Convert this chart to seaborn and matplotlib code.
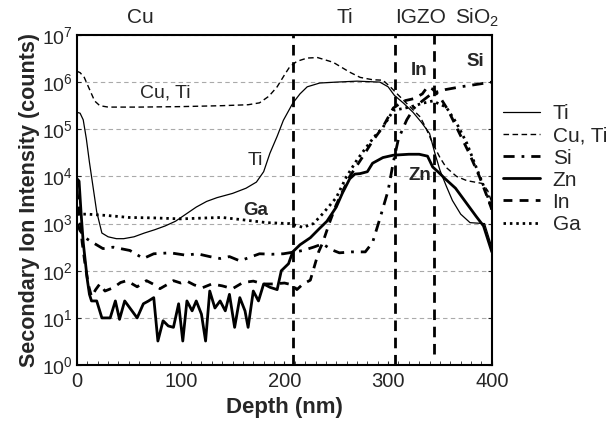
import numpy as np
import pandas as pd
import matplotlib
matplotlib.use("Agg")
import matplotlib.pyplot as plt
import seaborn as sns

# depth profile values (exponents of 10)
ti_depth = [0, 3, 6, 9, 12, 17, 19, 24, 30, 38, 45, 55, 65, 75, 85, 95, 105, 115, 125, 135,
            150, 163, 173, 180, 186, 193, 199, 208, 215, 222, 234, 250, 270, 292, 300, 306,
            315, 324, 332, 340, 345, 350, 356, 362, 370, 379, 393, 400]
ti_exp = [5.36, 5.34, 5.2, 4.8, 4.3, 3.55, 3.25, 2.8, 2.72, 2.68, 2.68, 2.72, 2.8, 2.87, 2.95,
          3.05, 3.2, 3.35, 3.47, 3.55, 3.64, 3.75, 3.88, 4.1, 4.49, 4.85, 5.19, 5.55, 5.75, 5.9,
          5.98, 6.0, 6.02, 6.0, 5.9, 5.72, 5.55, 5.36, 5.15, 4.91, 4.5, 4.13, 3.8, 3.49, 3.2,
          3.02, 3.0, 2.5]

cuti_depth = [0, 3, 7, 12, 17, 22, 30, 60, 100, 140, 165, 176, 185, 193, 200, 205, 212, 222,
              232, 247, 263, 273, 285, 295, 303, 311, 321, 331, 337, 343, 350, 356, 366, 376,
              391, 396, 400]
cuti_exp = [6.23, 6.2, 6.1, 5.85, 5.6, 5.5, 5.47, 5.47, 5.48, 5.5, 5.52, 5.56, 5.7, 5.9, 6.15,
            6.32, 6.44, 6.51, 6.52, 6.42, 6.21, 6.1, 6.05, 6.04, 5.88, 5.7, 5.48, 5.26, 5.0,
            4.7, 4.4, 4.19, 4.0, 3.91, 3.85, 3.7, 3.45]

si_depth = [0, 3, 8, 12, 25, 35, 51, 64, 74, 90, 105, 116, 128, 138, 147, 157, 166, 176, 188,
            199, 210, 218, 228, 237, 245, 253, 265, 278, 285, 292, 300, 305, 310, 318, 325,
            333, 340, 345, 355, 370, 385, 400]
si_exp = [3.0, 2.85, 2.7, 2.64, 2.47, 2.5, 2.43, 2.26, 2.36, 2.38, 2.33, 2.36, 2.3, 2.26, 2.3,
          2.21, 2.28, 2.36, 2.35, 2.36, 2.4, 2.43, 2.5, 2.57, 2.45, 2.38, 2.4, 2.4, 2.6, 3.1,
          3.7, 4.3, 4.8, 5.2, 5.45, 5.6, 5.72, 5.78, 5.84, 5.9, 5.95, 6.0]

zn_depth = [0, 2, 4, 6, 8, 10, 12, 14, 19, 24, 32, 37, 41, 46, 51, 58, 64, 69, 74, 78, 83, 88,
            93, 98, 102, 106, 111, 115, 120, 124, 128, 133, 138, 143, 147, 152, 157, 162, 165,
            170, 175, 180, 186, 193, 197, 204, 208, 215, 225, 234, 241, 250, 256, 263, 268,
            273, 280, 285, 295, 305, 320, 330, 338, 343, 348, 355, 365, 375, 385, 392, 400]
zn_exp = [3.95, 3.9, 3.2, 2.6, 2.2, 1.8, 1.5, 1.36, 1.36, 1.0, 1.0, 1.36, 0.97, 1.36, 1.21, 1.0,
          1.3, 1.36, 1.43, 0.51, 0.94, 0.83, 0.8, 1.3, 0.51, 1.36, 1.15, 1.36, 1.08, 0.51, 1.57,
          1.21, 1.36, 1.15, 1.5, 0.8, 1.43, 1.15, 0.8, 1.57, 1.36, 1.72, 1.65, 1.6, 2.0, 2.15,
          2.4, 2.55, 2.7, 2.9, 3.05, 3.35, 3.65, 3.95, 4.05, 4.06, 4.1, 4.28, 4.4, 4.45, 4.47,
          4.47, 4.43, 4.2, 4.1, 3.95, 3.75, 3.45, 3.15, 2.95, 2.4]

in_depth = [0, 2, 5, 8, 11, 14, 18, 22, 27, 35, 42, 48, 58, 67, 75, 80, 88, 93, 100, 106, 113,
            121, 130, 140, 150, 160, 170, 180, 190, 200, 208, 212, 218, 225, 229, 233, 237, 244,
            250, 263, 275, 285, 295, 305, 315, 325, 333, 338, 343, 350, 358, 368, 378, 388,
            395, 400]
in_exp = [3.7, 3.3, 2.6, 2.1, 1.7, 1.45, 1.6, 1.72, 1.57, 1.64, 1.75, 1.79, 1.66, 1.79, 1.7,
          1.62, 1.72, 1.79, 1.74, 1.78, 1.7, 1.64, 1.72, 1.68, 1.62, 1.75, 1.78, 1.72, 1.72,
          1.74, 1.7, 1.6, 1.72, 1.8, 2.1, 2.4, 2.6, 3.05, 3.4, 4.0, 4.4, 4.75, 5.05, 5.45, 5.6,
          5.65, 5.75, 5.9, 5.85, 5.68, 5.4, 4.95, 4.5, 4.0, 3.6, 3.3]

ga_depth = [0, 10, 30, 50, 75, 100, 125, 140, 160, 183, 205, 218, 228, 237, 250, 260, 270, 279,
            287, 295, 305, 321, 333, 343, 356, 366, 376, 385, 395, 400]
ga_exp = [3.2, 3.2, 3.17, 3.13, 3.12, 3.1, 3.12, 3.13, 3.08, 3.02, 3.0, 2.92, 3.0, 3.21, 3.55,
          4.0, 4.35, 4.62, 4.85, 5.04, 5.4, 5.47, 5.55, 5.6, 5.47, 5.13, 4.7, 4.19, 3.64, 3.3]

interfaces = [208, 307, 344]
layer_names = ["Cu", "Ti", "IGZO", "SiO$_2$"]
layer_pos = [61, 258, 331, 386]

sns.set_style("white")
plt.rcParams["font.family"] = ["Liberation Sans", "DejaVu Sans"]
plt.rcParams["mathtext.default"] = "regular"

fig = plt.figure(figsize=(6.14, 4.26), dpi=100)
ax = fig.add_axes([0.1254, 0.143, 0.6756, 0.775])

series = [
    ("Ti", ti_depth, ti_exp, 0.9, "-"),
    ("Cu, Ti", cuti_depth, cuti_exp, 1.0, (0, (4, 2.5))),
    ("Si", si_depth, si_exp, 2.0, (0, (4, 2.5, 1, 2.5))),
    ("Zn", zn_depth, zn_exp, 2.0, "-"),
    ("In", in_depth, in_exp, 2.0, (0, (3.2, 2.6))),
    ("Ga", ga_depth, ga_exp, 2.0, (0, (0.9, 1.4))),
]

for name, d, e, lw, ls in series:
    df = pd.DataFrame({"depth": d, "counts": np.power(10.0, e)})
    sns.lineplot(data=df, x="depth", y="counts", ax=ax, color="black", lw=lw,
                 linestyle=ls, label=name, estimator=None, sort=False)

ax.set_yscale("log")
ax.set_xlim(0, 400)
ax.set_ylim(1, 1e7)

for i, xv in enumerate(interfaces):
    ax.axvline(xv, ymin=0.035 if i == 2 else 0, color="black", lw=2,
               linestyle=(0, (3.8, 2.4)), zorder=1)

ax.yaxis.grid(True, which="major", color="#aaaaaa", linestyle=(0, (4, 3)), lw=0.8)
ax.xaxis.grid(False)

ax.set_xticks([0, 100, 200, 300, 400])
ax.set_xticks(np.arange(0, 401, 10), minor=True)
ax.tick_params(axis="x", which="both", direction="in", bottom=True, labelsize=14.5)
ax.tick_params(axis="x", which="minor", length=3, width=0.6)
ax.tick_params(axis="x", which="major", length=3, pad=5)
ax.tick_params(axis="y", which="major", direction="in", left=True, right=True, length=3,
               labelsize=14, pad=3)
ax.tick_params(axis="y", which="minor", left=False, right=False)

for sp in ax.spines.values():
    sp.set_color("black")
    sp.set_linewidth(1.5)

ax.set_xlabel("Depth (nm)", fontsize=16, fontweight="bold", labelpad=4)
ax.set_ylabel("Secondary Ion Intensity (counts)", fontsize=15.5, fontweight="bold", labelpad=1)

for name, xp in zip(layer_names, layer_pos):
    ax.text(xp, 2.3e7, name, ha="center", va="center", fontsize=15)

ax.text(85, 6e5, "Cu, Ti", ha="center", va="center", fontsize=14)
ax.text(172, 2.2e4, "Ti", ha="center", va="center", fontsize=14)
ax.text(172, 1.9e3, "Ga", ha="center", va="center", fontsize=13.5, fontweight="bold")
ax.text(330, 1.8e6, "In", ha="center", va="center", fontsize=13.5, fontweight="bold")
ax.text(384, 2.7e6, "Si", ha="center", va="center", fontsize=13.5, fontweight="bold")
ax.text(331, 1.05e4, "Zn", ha="center", va="center", fontsize=13.5, fontweight="bold")

ax.legend(loc="upper left", bbox_to_anchor=(1.026, 0.79), frameon=False, fontsize=15,
          handlelength=1.8, handletextpad=0.6, labelspacing=0.15, borderaxespad=0,
          borderpad=0)

fig.savefig("out.png", dpi=100)
